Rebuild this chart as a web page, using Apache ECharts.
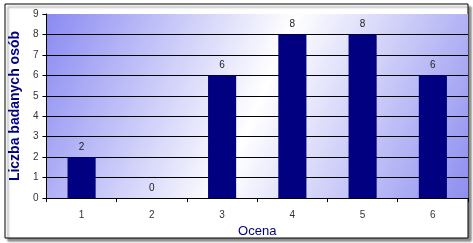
<!DOCTYPE html>
<html><head><meta charset="utf-8">
<script src="https://cdn.jsdelivr.net/npm/echarts@6/dist/echarts.min.js"></script>
<style>html,body{margin:0;padding:0;background:#fff}#c{width:473px;height:243px}</style>
</head><body><div id="c"></div>
<script>
var categories = ['1','2','3','4','5','6'];
var values = [2,0,6,8,8,6];
var yAxisTitle = 'Liczba badanych osób';
var xAxisTitle = 'Ocena';

var chart = echarts.init(document.getElementById('c'));
var splitColors = ['#000','#000','#000','#000','#000','#000','#000','#000','#000','rgba(0,0,0,0)'];
chart.setOption({
  animation:false,
  graphic:[{type:'rect',shape:{x:5,y:4,width:463,height:234},
    style:{fill:'#fff',stroke:'#000',lineWidth:1,shadowColor:'rgba(0,0,0,0.45)',shadowOffsetX:3,shadowOffsetY:3,shadowBlur:2},z:-10}],
  grid:{left:45,top:14,right:5,bottom:44,show:true,borderWidth:0,
    backgroundColor:{type:'linear',x:0,y:0,x2:1,y2:1,colorStops:[
      {offset:0,color:'#8a8af2'},{offset:0.5,color:'#ffffff'},{offset:1,color:'#8e8ef0'}]}},
  xAxis:{type:'category',data:categories,
    axisLine:{lineStyle:{color:'#000',width:1}},
    axisTick:{show:true,length:4,lineStyle:{color:'#000'}},
    axisLabel:{color:'#333',fontFamily:'Arial, Liberation Sans',fontSize:10,margin:12},
    name:xAxisTitle,nameLocation:'middle',nameGap:23,
    nameTextStyle:{color:'#000080',fontFamily:'Arial, Liberation Sans',fontSize:13}},
  yAxis:{type:'value',min:0,max:9,interval:1,
    axisLine:{show:true,lineStyle:{color:'#000',width:1}},
    axisTick:{show:true,length:4,lineStyle:{color:'#000'}},
    axisLabel:{color:'#333',fontFamily:'Arial, Liberation Sans',fontSize:10,margin:8},
    splitLine:{show:true,lineStyle:{color:splitColors,width:1}},
    name:yAxisTitle,nameLocation:'middle',nameGap:24,
    nameTextStyle:{color:'#000080',fontFamily:'Arial, Liberation Sans',fontSize:14,fontWeight:'bold'}},
  series:[{type:'bar',data:values,barWidth:'40%',
    itemStyle:{color:'#000080'},
    label:{show:true,position:'top',distance:5,color:'#222',fontFamily:'Arial, Liberation Sans',fontSize:10}}]
});
</script></body></html>
